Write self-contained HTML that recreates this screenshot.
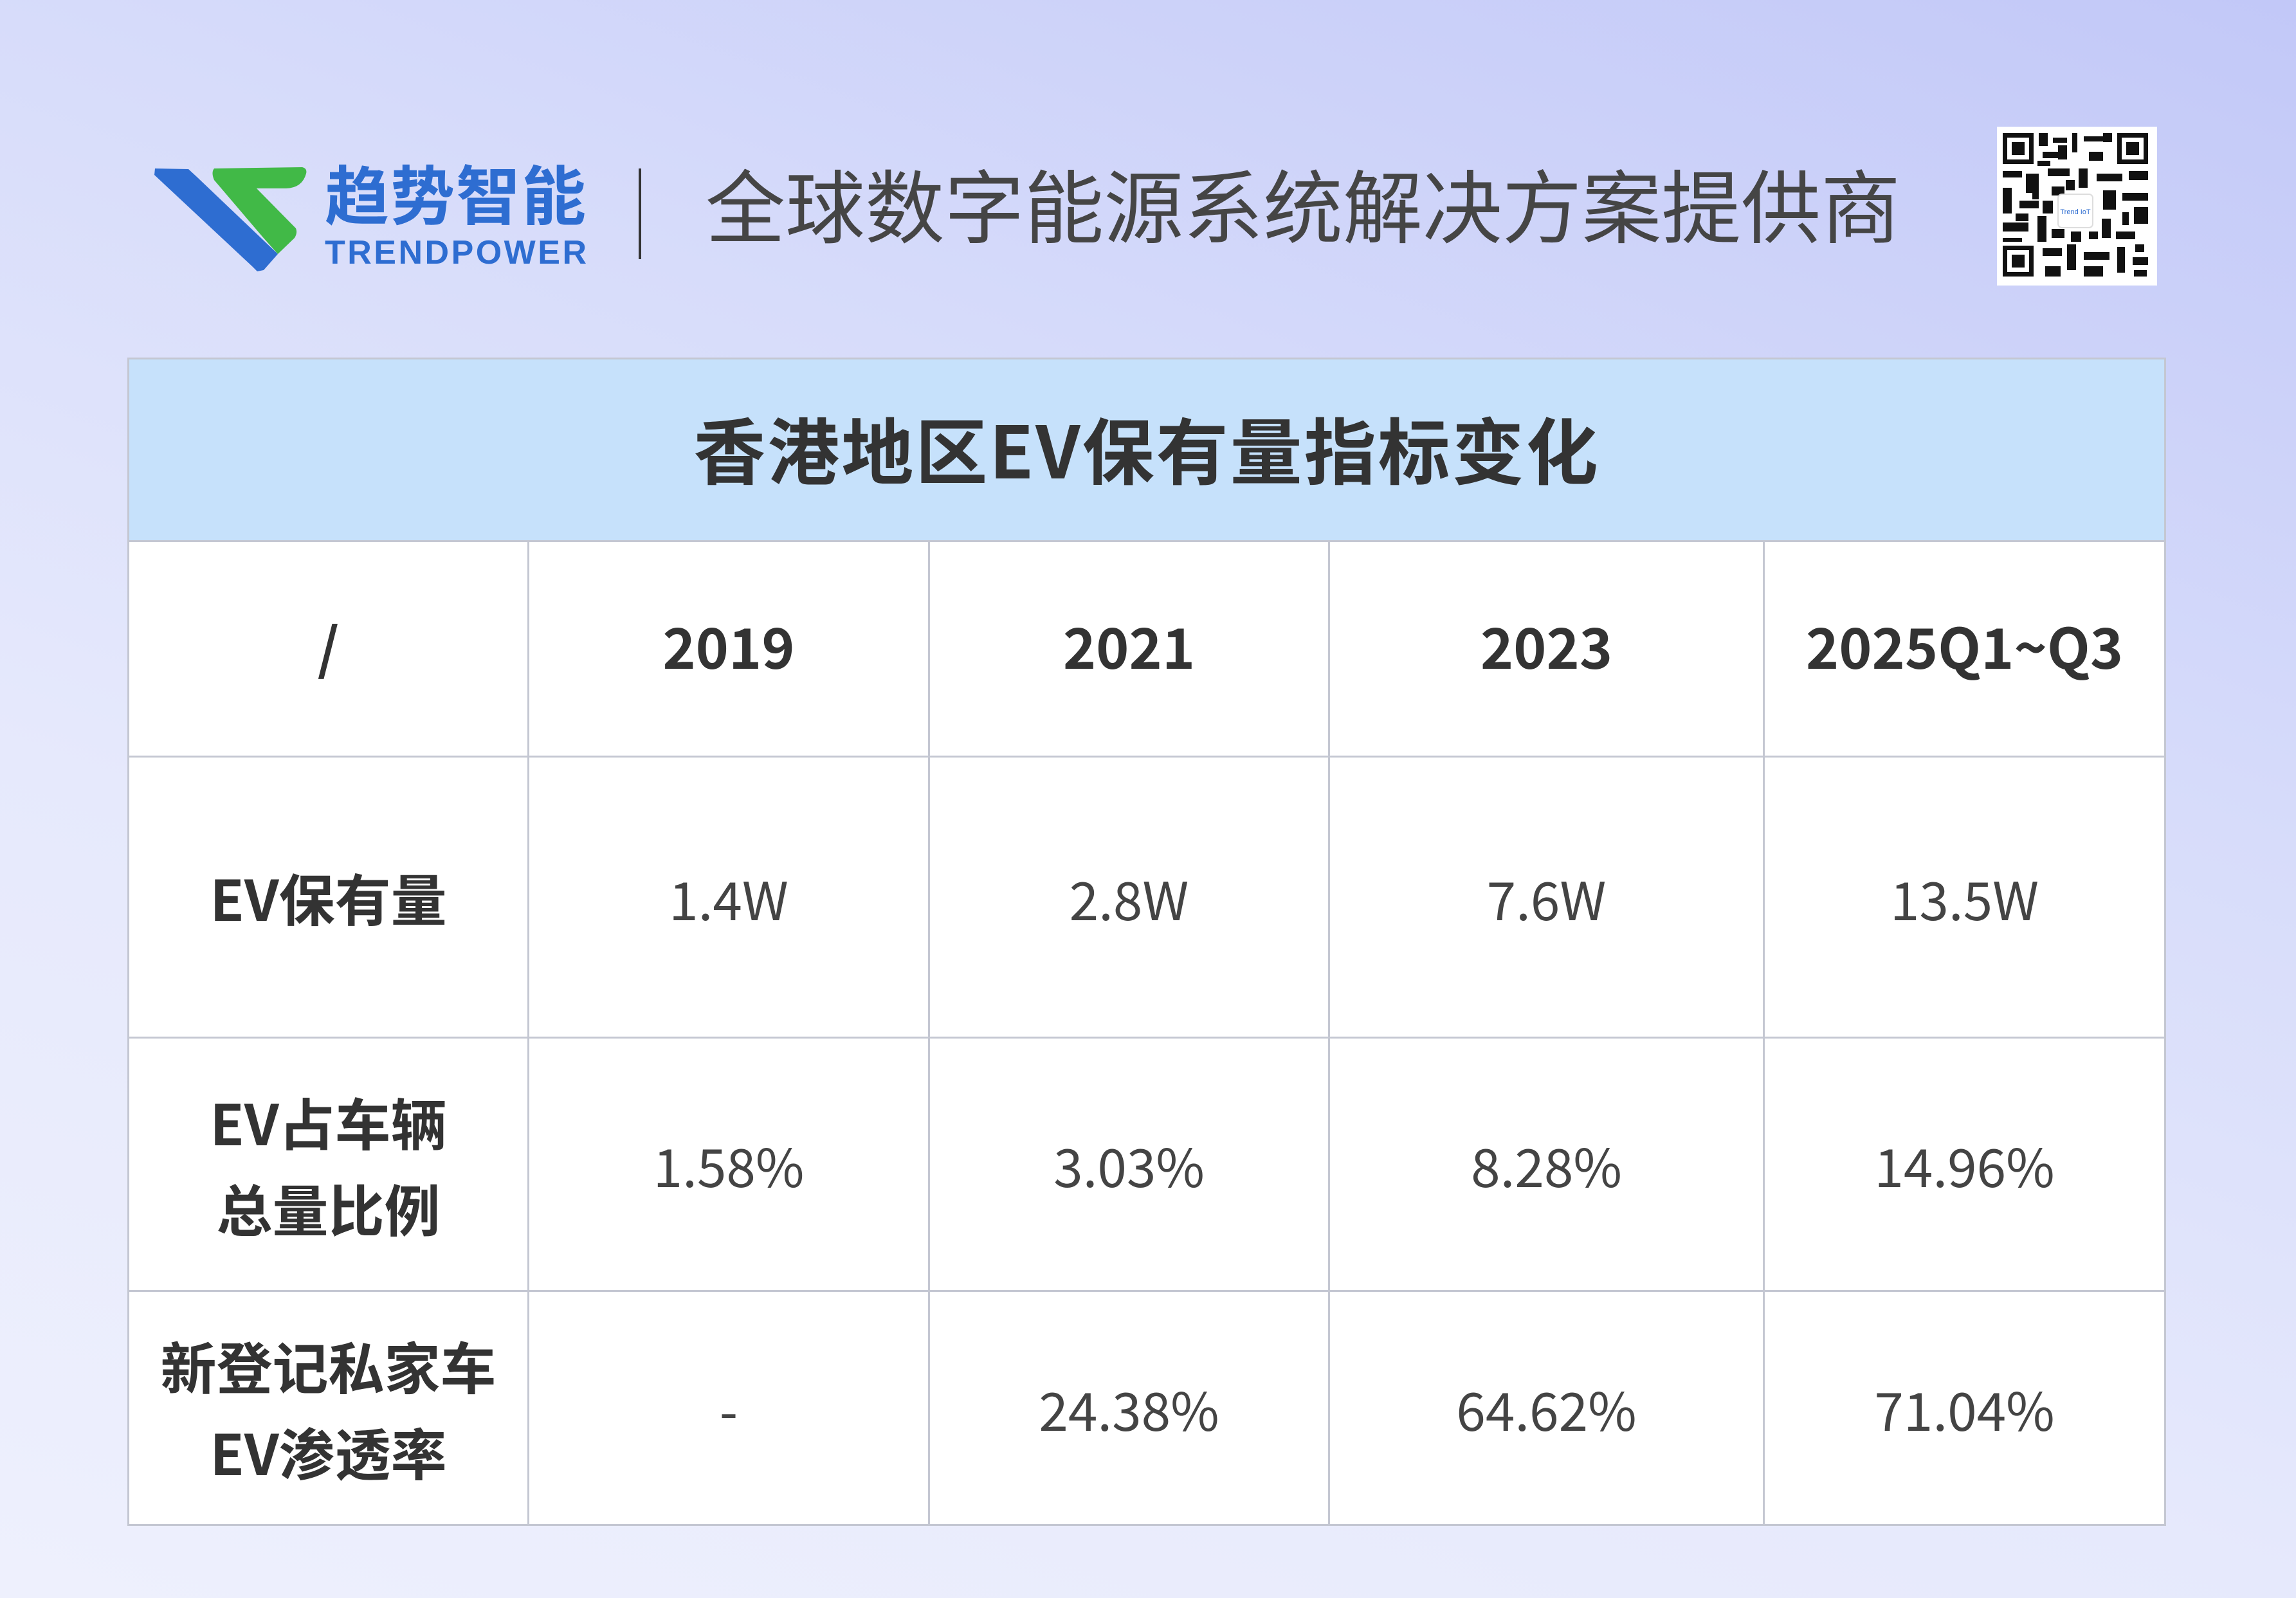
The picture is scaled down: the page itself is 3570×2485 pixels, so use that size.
<!DOCTYPE html>
<html><head><meta charset="utf-8"><style>
html,body{margin:0;padding:0}
body{width:3570px;height:2485px;position:relative;overflow:hidden;
background:linear-gradient(200deg,#c2c8f8 0%,#d7dcfa 35%,#e6e9fc 65%,#eef0fd 100%);
font-family:"Liberation Sans","Noto Sans CJK SC",sans-serif;color:#3a3a3a}
svg.hdr{position:absolute;left:0;top:0}
table{position:absolute;left:198px;top:556px;border-collapse:collapse;table-layout:fixed;width:3167px}
td{border:3px solid #c4c7d2;text-align:center;vertical-align:middle;background:#fff;padding:0;color:#444;font-size:82px;font-family:"Noto Sans CJK SC","Liberation Sans",sans-serif}
td.t{background:#c6e1fb;font-size:112px;font-weight:bold;color:#333;letter-spacing:3px;padding-bottom:8px}
td.h{font-weight:bold;font-size:87px;color:#333;padding-bottom:12px}
td.l{font-weight:bold;font-size:87px;color:#333;line-height:134px}
</style></head><body>
<svg class="hdr" width="3570" height="500" xmlns="http://www.w3.org/2000/svg">
<polygon points="241,262 293,263 306,275 432,395 410,420 400,422 393,415 240,272" fill="#2e6dd1"/>
<path d="M333,262 L470,260 Q478,262 476,270 Q470,292 445,293 L399,293 L460,355 Q463,362 458,370 L432,395 L408,368 L333,280 Q328,268 333,262 Z" fill="#41b947"/>
<text x="505" y="341" font-size="100" font-weight="bold" fill="#2e6dd1" textLength="406" font-family="Noto Sans CJK SC, sans-serif">趋势智能</text>
<text x="505" y="410" font-size="52" font-weight="bold" fill="#2e6dd1" textLength="407" font-family="Liberation Sans, sans-serif">TRENDPOWER</text>
<rect x="993" y="262" width="4" height="141" fill="#333"/>
<text x="1097" y="368" font-size="124" fill="#454545" textLength="1858" font-family="Noto Sans CJK SC, sans-serif">全球数字能源系统解决方案提供商</text>
<rect x="3105" y="197" width="249" height="247" fill="#fff"/>
<g fill="#111">
<rect x="3114" y="207" width="48" height="48"/><rect x="3121" y="214" width="34" height="34" fill="#fff"/><rect x="3128" y="221" width="20" height="20"/>
<rect x="3292" y="207" width="48" height="48"/><rect x="3299" y="214" width="34" height="34" fill="#fff"/><rect x="3306" y="221" width="20" height="20"/>
<rect x="3114" y="382" width="48" height="48"/><rect x="3121" y="389" width="34" height="34" fill="#fff"/><rect x="3128" y="396" width="20" height="20"/>
</g>
<g fill="#111">
<rect x="3170" y="207" width="14" height="20"/><rect x="3192" y="214" width="22" height="8"/><rect x="3222" y="207" width="8" height="30"/><rect x="3240" y="212" width="30" height="8"/><rect x="3176" y="236" width="30" height="10"/><rect x="3248" y="236" width="22" height="14"/><rect x="3270" y="207" width="14" height="14"/><rect x="3200" y="226" width="14" height="22"/><rect x="3168" y="250" width="20" height="8"/>
<rect x="3114" y="266" width="30" height="10"/><rect x="3150" y="270" width="20" height="30"/><rect x="3184" y="262" width="34" height="12"/><rect x="3232" y="262" width="14" height="30"/><rect x="3260" y="270" width="40" height="12"/><rect x="3310" y="266" width="30" height="14"/><rect x="3212" y="280" width="14" height="16"/>
<rect x="3114" y="292" width="14" height="40"/><rect x="3140" y="312" width="30" height="12"/><rect x="3270" y="296" width="20" height="30"/><rect x="3300" y="300" width="40" height="12"/><rect x="3318" y="322" width="22" height="26"/><rect x="3134" y="332" width="20" height="12"/><rect x="3176" y="312" width="16" height="20"/>
<rect x="3114" y="346" width="40" height="14"/><rect x="3168" y="336" width="14" height="40"/><rect x="3268" y="340" width="14" height="30"/><rect x="3290" y="360" width="30" height="12"/><rect x="3190" y="356" width="20" height="14"/><rect x="3220" y="360" width="16" height="16"/><rect x="3300" y="330" width="10" height="20"/><rect x="3248" y="360" width="14" height="12"/>
<rect x="3176" y="386" width="30" height="12"/><rect x="3214" y="380" width="14" height="40"/><rect x="3240" y="392" width="40" height="12"/><rect x="3292" y="384" width="12" height="40"/><rect x="3316" y="400" width="24" height="12"/><rect x="3180" y="414" width="24" height="16"/><rect x="3240" y="414" width="30" height="16"/><rect x="3320" y="380" width="14" height="12"/><rect x="3318" y="420" width="20" height="10"/>
<rect x="3190" y="290" width="20" height="14"/><rect x="3160" y="300" width="10" height="10"/><rect x="3114" y="370" width="30" height="6"/>
</g>
<rect x="3200" y="302" width="54" height="52" rx="6" fill="#fff" stroke="#ddd" stroke-width="2"/>
<text x="3227" y="333" font-size="11" fill="#2e6dd1" text-anchor="middle" font-family="Liberation Sans, sans-serif">Trend IoT</text>
</svg>
<table>
<colgroup><col style="width:622px"><col style="width:623px"><col style="width:622px"><col style="width:676px"><col style="width:624px"></colgroup>
<tr style="height:284px"><td class="t" colspan="5">香港地区EV保有量指标变化</td></tr>
<tr style="height:335px"><td class="h">/</td><td class="h">2019</td><td class="h">2021</td><td class="h">2023</td><td class="h">2025Q1~Q3</td></tr>
<tr style="height:437px"><td class="l">EV保有量</td><td>1.4W</td><td>2.8W</td><td>7.6W</td><td>13.5W</td></tr>
<tr style="height:394px"><td class="l">EV占车辆<br>总量比例</td><td>1.58%</td><td>3.03%</td><td>8.28%</td><td>14.96%</td></tr>
<tr style="height:364px"><td class="l">新登记私家车<br>EV渗透率</td><td>-</td><td>24.38%</td><td>64.62%</td><td>71.04%</td></tr>
</table>
</body></html>
